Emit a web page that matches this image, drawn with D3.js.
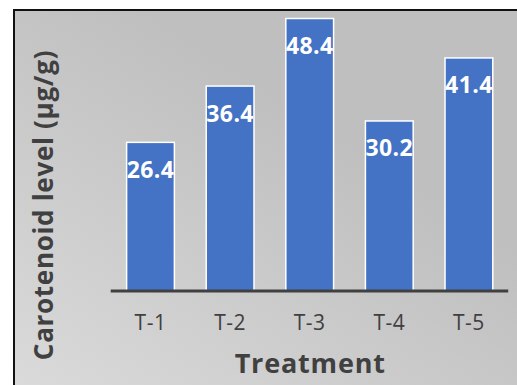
<!DOCTYPE html>
<html>
<head>
<meta charset="utf-8">
<script src="https://cdn.jsdelivr.net/npm/d3@7"></script>
<style>
  html, body { margin: 0; padding: 0; background: #ffffff; }
  svg { display: block; }
</style>
</head>
<body>
<svg id="chart" width="517" height="385"></svg>
<script>
// Carotenoid level per treatment
const categories = ["T-1", "T-2", "T-3", "T-4", "T-5"];
const values = [26.4, 36.4, 48.4, 30.2, 41.4];
const valueLabels = ["26.4", "36.4", "48.4", "30.2", "41.4"];
const yDomain = [0, 50];
const xTitle = "Treatment";
const yTitle = "Carotenoid level (µg/g)";

const W = 517, H = 385;
const svg = d3.select("#chart");

// Chart panel background: grey with a lighter wash toward the lower left
const defs = svg.append("defs");
const grad = defs.append("linearGradient")
  .attr("id", "panelGrad")
  .attr("x1", "0%").attr("y1", "100%")
  .attr("x2", "60%").attr("y2", "30%");
grad.append("stop").attr("offset", "0%").attr("stop-color", "#dadada");
grad.append("stop").attr("offset", "100%").attr("stop-color", "#bfbfbf");

svg.append("rect")
  .attr("x", 14).attr("y", 10)
  .attr("width", W - 14).attr("height", H - 10)
  .attr("fill", "url(#panelGrad)");

// Panel frame (top and left edges visible)
svg.append("line").attr("x1", 13).attr("x2", W).attr("y1", 10).attr("y2", 10)
  .attr("stroke", "#111").attr("stroke-width", 2);
svg.append("line").attr("x1", 14).attr("x2", 14).attr("y1", 9).attr("y2", H)
  .attr("stroke", "#111").attr("stroke-width", 2);

const plot = { left: 110.7, right: 508.7, top: 9.5, bottom: 291 };

const x = d3.scaleBand()
  .domain(categories)
  .range([plot.left, plot.right])
  .paddingInner(0.4)
  .paddingOuter(0.2);

const y = d3.scaleLinear()
  .domain(yDomain)
  .range([plot.bottom, plot.top]);

// Bars
svg.append("g").selectAll("rect")
  .data(values)
  .join("rect")
  .attr("x", (d, i) => x(categories[i]))
  .attr("y", d => y(d))
  .attr("width", x.bandwidth())
  .attr("height", d => y(0) - y(d))
  .attr("fill", "#4472c4")
  .attr("stroke", "#ffffff")
  .attr("stroke-width", 1.5);

// Value labels inside the top of each bar
svg.append("g").selectAll("text")
  .data(values)
  .join("text")
  .attr("x", (d, i) => x(categories[i]) + x.bandwidth() / 2)
  .attr("y", d => y(d) + 35.5)
  .attr("text-anchor", "middle")
  .attr("font-family", "'Open Sans', sans-serif")
  .attr("font-weight", 700)
  .attr("font-size", 23)
  .attr("letter-spacing", 0.4)
  .attr("fill", "#ffffff")
  .text((d, i) => valueLabels[i]);

// X axis
const xAxis = svg.append("g")
  .attr("transform", `translate(0,${plot.bottom})`)
  .call(d3.axisBottom(x).tickSize(0).tickPadding(0));
xAxis.select(".domain")
  .attr("d", `M${plot.left},0H${plot.right - 0.5}`)
  .attr("stroke", "#404040")
  .attr("stroke-width", 3);
xAxis.selectAll(".tick text")
  .attr("y", 39)
  .attr("dy", null)
  .attr("font-family", "'Open Sans', sans-serif")
  .attr("font-size", 21)
  .attr("letter-spacing", 0.5)
  .attr("fill", "#404040");

// Axis titles
svg.append("text")
  .attr("x", (plot.left + plot.right) / 2 + 0.5)
  .attr("y", 373)
  .attr("text-anchor", "middle")
  .attr("font-family", "'Open Sans', sans-serif")
  .attr("font-weight", 700)
  .attr("font-size", 27)
  .attr("letter-spacing", 0.8)
  .attr("fill", "#404040")
  .text(xTitle);

svg.append("text")
  .attr("transform", `translate(53,${(53 + 357) / 2}) rotate(-90)`)
  .attr("text-anchor", "middle")
  .attr("font-family", "'Open Sans', sans-serif")
  .attr("font-weight", 700)
  .attr("font-size", 26)
  .attr("letter-spacing", 0.7)
  .attr("fill", "#404040")
  .text(yTitle);
</script>
</body>
</html>
